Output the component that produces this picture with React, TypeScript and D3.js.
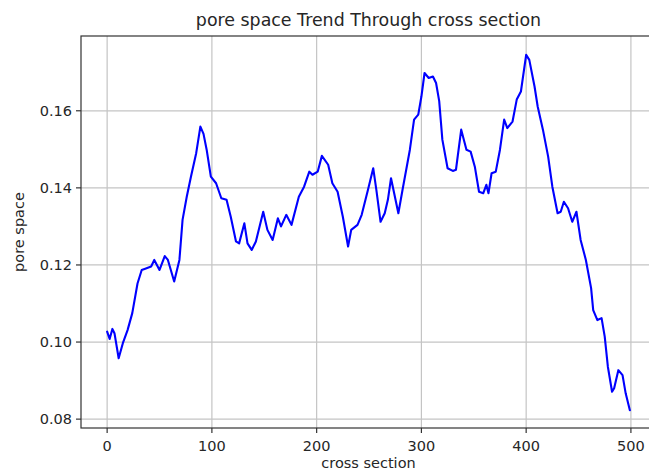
import React from "react";
import * as d3 from "d3";

// Cross-section index of each sampled point
const sectionIndex = [
  0, 2.4, 5, 7, 11, 15, 19.5, 24, 29, 33, 37, 42, 45, 50, 55, 58, 64, 69, 72, 76,
  80, 85, 89, 92, 95, 99, 104, 109, 114, 118, 123, 126, 131, 134, 138, 142, 149, 153, 158, 163,
  166, 171, 176, 183, 188, 193, 196, 201, 205, 211, 215, 220, 225, 230, 233, 239, 243, 249, 254, 257,
  261, 265, 268, 271, 274, 278, 282, 289, 293, 297, 300, 303, 307, 311, 314, 317, 320, 325, 330, 333,
  338, 343, 347, 351, 355, 359, 362, 364, 367, 371, 375, 379, 382, 387, 391, 395, 400, 403, 408, 411,
  416, 421, 425, 430, 433, 436, 440, 444, 448, 452, 457, 462, 464, 468, 472, 475, 478, 482, 484, 488,
  492, 495, 499,
];

// Pore space fraction at each section
const poreSpace = [
  0.1027, 0.1008, 0.1034, 0.1023, 0.0958, 0.0997, 0.1031, 0.1075, 0.1152, 0.1187, 0.1191, 0.1196, 0.1213, 0.1187, 0.1223, 0.1213, 0.1157, 0.1213, 0.1317, 0.1377,
  0.1429, 0.149, 0.1559, 0.154, 0.1499, 0.1429, 0.1412, 0.1373, 0.1369, 0.1325, 0.1261, 0.1256, 0.1308, 0.1256, 0.1239, 0.1261, 0.1338, 0.1291, 0.1265, 0.1321,
  0.13, 0.133, 0.1304, 0.1377, 0.1403, 0.1442, 0.1434, 0.1442, 0.1483, 0.146, 0.1412, 0.139, 0.1325, 0.1248, 0.1291, 0.1304, 0.133, 0.1395, 0.1451, 0.1395,
  0.1312, 0.1334, 0.1369, 0.1425, 0.1386, 0.1334, 0.1395, 0.1499, 0.1577, 0.159, 0.1637, 0.1698, 0.1685, 0.1689, 0.1672, 0.1625, 0.1525, 0.1451, 0.1444, 0.1447,
  0.1551, 0.1499, 0.1494, 0.1455, 0.139, 0.1386, 0.1408, 0.1386, 0.1438, 0.1442, 0.1499, 0.1577, 0.1555, 0.1572, 0.1629, 0.165, 0.1745, 0.1732, 0.1663, 0.1611,
  0.1551, 0.1481, 0.1403, 0.1334, 0.1338, 0.1364, 0.1347, 0.1312, 0.1338, 0.1265, 0.1213, 0.114, 0.1083, 0.1057, 0.1062, 0.1014, 0.0936, 0.0871, 0.088, 0.0927,
  0.0914, 0.0867, 0.0823,
];

const xTicks = [0, 100, 200, 300, 400, 500];
const yTicks = [0.08, 0.1, 0.12, 0.14, 0.16];

const W = 649;
const H = 471;
const plot = { left: 81, top: 36, right: 656, bottom: 428 };
const FONT = "'DejaVu Sans', sans-serif";

export default function App() {
  const x = d3.scaleLinear().domain([-24.95, 523.95]).range([plot.left, plot.right]);
  const y = d3.scaleLinear().domain([0.0777, 0.1794]).range([plot.bottom, plot.top]);

  const points: [number, number][] = sectionIndex.map((s, i) => [s, poreSpace[i]]);
  const line = d3
    .line<[number, number]>()
    .x((d) => x(d[0]))
    .y((d) => y(d[1]))
    .curve(d3.curveLinear);

  const textColor = "#262626";

  return (
    <svg
      width={W}
      height={H}
      style={{ position: "absolute", left: 0, top: 0, background: "#fff" }}
      fontFamily={FONT}
    >
      {/* grid */}
      {xTicks.map((t) => (
        <line key={"gx" + t} x1={x(t)} x2={x(t)} y1={plot.top} y2={plot.bottom} stroke="#c4c4c4" strokeWidth={1.2} />
      ))}
      {yTicks.map((t) => (
        <line key={"gy" + t} x1={plot.left} x2={plot.right} y1={y(t)} y2={y(t)} stroke="#c4c4c4" strokeWidth={1.2} />
      ))}

      {/* data line */}
      <path d={line(points) || ""} fill="none" stroke="#0000ff" strokeWidth={2.1} strokeLinejoin="round" strokeLinecap="round" />

      {/* spines */}
      <rect
        x={plot.left}
        y={plot.top}
        width={plot.right - plot.left}
        height={plot.bottom - plot.top}
        fill="none"
        stroke="#333"
        strokeWidth={1.2}
      />

      {/* x ticks */}
      {xTicks.map((t) => (
        <g key={"tx" + t}>
          <line x1={x(t)} x2={x(t)} y1={plot.bottom} y2={plot.bottom + 5} stroke="#333" strokeWidth={1.2} />
          <text x={x(t)} y={451} textAnchor="middle" fontSize={14.5} fill={textColor}>
            {t}
          </text>
        </g>
      ))}

      {/* y ticks */}
      {yTicks.map((t) => (
        <g key={"ty" + t}>
          <line x1={plot.left - 5} x2={plot.left} y1={y(t)} y2={y(t)} stroke="#333" strokeWidth={1.2} />
          <text x={plot.left - 9} y={y(t)} dy="0.36em" textAnchor="end" fontSize={14.5} fill={textColor}>
            {t.toFixed(2)}
          </text>
        </g>
      ))}

      {/* labels */}
      <text x={368.5} y={26} textAnchor="middle" fontSize={17.4} fill={textColor}>
        pore space Trend Through cross section
      </text>
      <text x={368.5} y={468} textAnchor="middle" fontSize={14.5} fill={textColor}>
        cross section
      </text>
      <text
        transform={`translate(24, ${(plot.top + plot.bottom) / 2}) rotate(-90)`}
        textAnchor="middle"
        fontSize={14.5}
        fill={textColor}
      >
        pore space
      </text>
    </svg>
  );
}
